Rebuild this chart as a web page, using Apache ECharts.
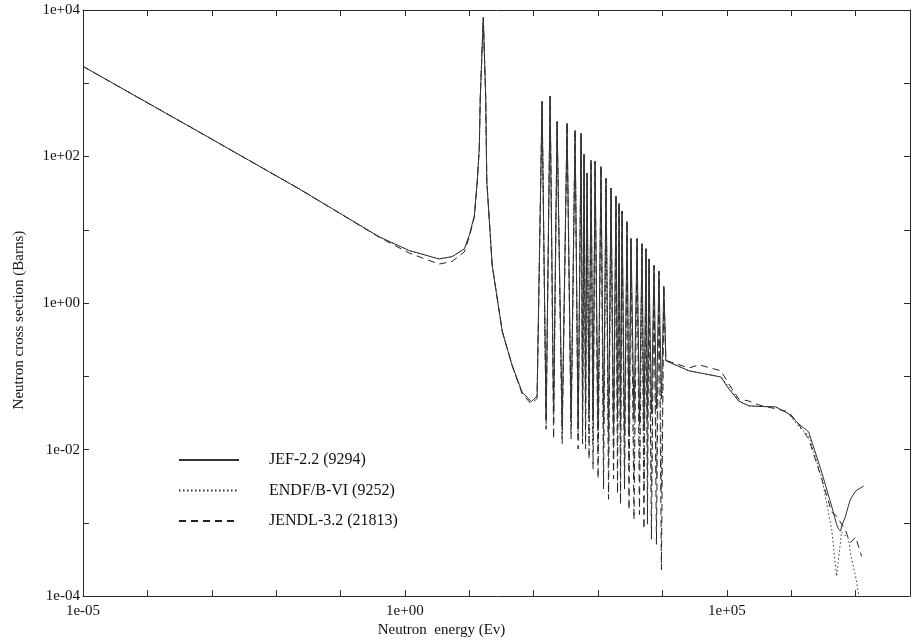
<!DOCTYPE html>
<html>
<head>
<meta charset="utf-8">
<script src="https://cdn.jsdelivr.net/npm/echarts@6/dist/echarts.min.js"></script>
<style>
  html, body { margin: 0; padding: 0; background: #fff; }
  #chart { width: 918px; height: 643px; }
</style>
</head>
<body>
<div id="chart"></div>
<script>
// energies (eV), shared by the three evaluations; null = no reading for that library
const energy = [
  1e-5, 6.5e-4, 0.023, 0.40, 1.17, 3.4, 5.4, 8.4, 10, 12.0, 13.3, 14.3, 14.8, 16.5, 18.0, 18.7,
  22.7, 32.5, 46.5, 66, 91.5, 113,
  135, 156, 180, 204, 231, 277, 330, 381, 440, 490, 545, 575, 606, 640, 675, 725, 778, 836,
  898, 1000, 1110, 1217, 1330, 1455, 1590, 1740, 1900, 2005, 2120, 2233, 2360, 2576, 2820, 3025,
  3250, 3614, 4030, 4397, 4810, 5164, 5550, 5848, 6180, 6745, 7390, 8065, 8830, 9640, 10500,
  11300, 25800, 36800, 80700, 107000, 153000, 219000, 313000, 575000, 915000,
  1.31e6, 1.87e6, 2.97e6, 4.25e6, 5.07e6, 5.45e6, 5.85e6, 6.07e6, 7.0e6, 7.79e6, 8.36e6,
  1.0e7, 1.2e7, 1.24e7, 1.33e7
]

// cross sections (barns)
const jefXs = [
  1700, 214, 36, 8.0, 5.2, 4.0, 4.3, 5.5, 8.4, 15.7, 46, 130, 625, 8000, 625, 46,
  3.25, 0.41, 0.139, 0.061, 0.045, 0.054,
  570, 0.026, 670, 0.031, 300, 0.022, 285, 0.026, 228, 0.019, 207, 0.036, 107, 0.042, 59, 0.031, 89, 0.026,
  86, 0.019, 73, 0.022, 50, 0.016, 37, 0.019, 29, 0.026, 23, 0.022, 18, 0.016, 13, 0.019,
  7.6, 0.026, 7.6, 0.022, 6.5, 0.019, 5.5, 0.026, 4.0, 0.031, 3.25, 0.036, 2.7, 0.049, 1.7,
  0.163, 0.119, 0.112, 0.098, 0.0675, 0.046, 0.0395, 0.0388, 0.0383, 0.0307,
  0.0224, 0.0174, 0.00494, 0.00169, 0.00095, 0.00082, 0.00077, 0.0009, 0.00124, 0.00175, 0.00211,
  0.00272, 0.003, null, 0.00318
]

const endfXs = [
  1700, 214, 36, 8.0, 5.2, 4.0, 4.3, 5.5, 8.4, 15.7, 46, 130, 625, 8000, 625, 46,
  3.25, 0.41, 0.139, 0.061, 0.045, 0.054,
  570, 0.022, 670, 0.022, 300, 0.016, 285, 0.019, 228, 0.014, 207, 0.019, 107, 0.022, 59, 0.014, 89, 0.012,
  86, 0.0087, 73, 0.0102, 50, 0.0064, 37, 0.0074, 29, 0.0102, 23, 0.0054, 18, 0.0046, 13, 0.0064,
  7.6, 0.004, 7.6, 0.0054, 6.5, 0.0034, 5.5, 0.0046, 4.0, 0.0029, 3.25, 0.004, 2.7, 0.0025, 1.7,
  0.163, 0.119, 0.112, 0.098, 0.072, 0.046, 0.0395, 0.0388, 0.0383, 0.0307,
  0.0205, 0.0155, 0.0042, 0.00082, 0.000187, null, null, 0.00075, 0.00066, 0.0006, 0.00037,
  0.000187, 0.000072, null, null
]

const jendlXs = [
  1700, 214, 36, 7.9, 4.8, 3.4, 3.7, 5.0, 8.0, 15, 46, 130, 625, 7600, 625, 46,
  3.3, 0.41, 0.139, 0.058, 0.042, 0.05,
  560, 0.019, 670, 0.014, 300, 0.012, 285, 0.014, 228, 0.0102, 207, 0.012, 107, 0.0102, 59, 0.0074, 89, 0.0054,
  86, 0.004, 73, 0.0029, 50, 0.0021, 37, 0.004, 29, 0.0025, 23, 0.0018, 18, 0.0029, 13, 0.0015,
  7.6, 0.0011, 7.6, 0.0013, 6.5, 0.00082, 5.5, 0.00096, 4.0, 0.0006, 3.25, 0.00051, 2.7, 0.00023, 1.7,
  0.165, 0.13, 0.1435, 0.119, 0.079, 0.049, 0.046, 0.0407, 0.036, 0.0327,
  0.022, 0.014, 0.004, 0.0014, 0.00124, 0.00112, null, null, 0.00078, 0.0006, 0.00054,
  0.00064, null, 0.00035, null
]

const seriesNames = ['JEF-2.2 (9294)', 'ENDF/B-VI (9252)', 'JENDL-3.2 (21813)']
const xTickLabels = ['1e-05', '1e+00', '1e+05']
const yTickLabels = ['1e-04', '1e-02', '1e+00', '1e+02', '1e+04']

const serif = 'Liberation Serif'
const ink = '#2a2a2a'

function expLabel(v) {
  const l = Math.log10(v)
  const e = Math.round(l)
  if (Math.abs(l - e) > 1e-6) return ''
  return '1e' + (e < 0 ? '-' : '+') + String(Math.abs(e)).padStart(2, '0')
}

function pairs(xs) {
  const out = []
  energy.forEach((e, i) => {
    if (xs[i] != null) out.push([e, xs[i]])
  })
  return out
}

const chart = echarts.init(document.getElementById('chart'))

const frameAxis = {
  type: 'log',
  logBase: 10,
  axisLine: { show: true, lineStyle: { color: ink, width: 1 } },
  axisTick: { show: true, inside: true, length: 6, lineStyle: { color: ink } },
  splitLine: { show: false },
  minorTick: { show: false }
}

const option = {
  animation: false,
  backgroundColor: '#fff',
  grid: { left: 83, right: 8, top: 10, bottom: 46 },
  legend: {
    orient: 'vertical',
    left: 178,
    top: 452,
    padding: 0,
    itemWidth: 60,
    itemHeight: 14,
    itemGap: 14.5,
    data: seriesNames,
    itemStyle: { opacity: 0 },
    textStyle: { fontFamily: serif, fontSize: 16, color: '#111', padding: [0, 0, 0, 25] }
  },
  xAxis: [
    {
      ...frameAxis,
      position: 'bottom',
      min: 1e-5,
      max: 7e7,
      interval: 1,
      name: 'Neutron  energy (Ev)',
      nameLocation: 'middle',
      nameGap: 26,
      nameTextStyle: { fontFamily: serif, fontSize: 15, color: '#111', padding: [0, 110, 0, 0] },
      axisLabel: {
        margin: 7,
        fontFamily: serif,
        fontSize: 15,
        color: '#111',
        formatter: v => (xTickLabels.includes(expLabel(v)) ? expLabel(v) : '')
      }
    },
    {
      ...frameAxis,
      position: 'top',
      min: 1e-5,
      max: 7e7,
      interval: 1,
      axisLabel: { show: false }
    }
  ],
  yAxis: [
    {
      ...frameAxis,
      position: 'left',
      min: 1e-4,
      max: 1e4,
      interval: 1,
      name: 'Neutron cross section (Barns)',
      nameLocation: 'middle',
      nameGap: 56,
      nameTextStyle: { fontFamily: serif, fontSize: 15, color: '#111', padding: [0, 34, 0, 0] },
      axisLabel: {
        margin: 3,
        fontFamily: serif,
        fontSize: 15,
        color: '#111',
        formatter: v => (yTickLabels.includes(expLabel(v)) ? expLabel(v) : '')
      }
    },
    {
      ...frameAxis,
      position: 'right',
      min: 1e-4,
      max: 1e4,
      interval: 1,
      axisLabel: { show: false }
    }
  ],
  series: [
    {
      name: seriesNames[2],
      type: 'line',
      data: pairs(jendlXs),
      showSymbol: false,
      symbol: 'none',
      lineStyle: { color: '#222', width: 1, type: [7, 5] },
      itemStyle: { color: '#222' },
      z: 2
    },
    {
      name: seriesNames[1],
      type: 'line',
      data: pairs(endfXs),
      showSymbol: false,
      symbol: 'none',
      lineStyle: { color: '#333', width: 1, type: [1.5, 2.5] },
      itemStyle: { color: '#333' },
      z: 3
    },
    {
      name: seriesNames[0],
      type: 'line',
      data: pairs(jefXs),
      showSymbol: false,
      symbol: 'none',
      lineStyle: { color: '#333', width: 1 },
      itemStyle: { color: '#333' },
      z: 4
    }
  ]
}

chart.setOption(option)
window.addEventListener('resize', () => chart.resize())
</script>
</body>
</html>
